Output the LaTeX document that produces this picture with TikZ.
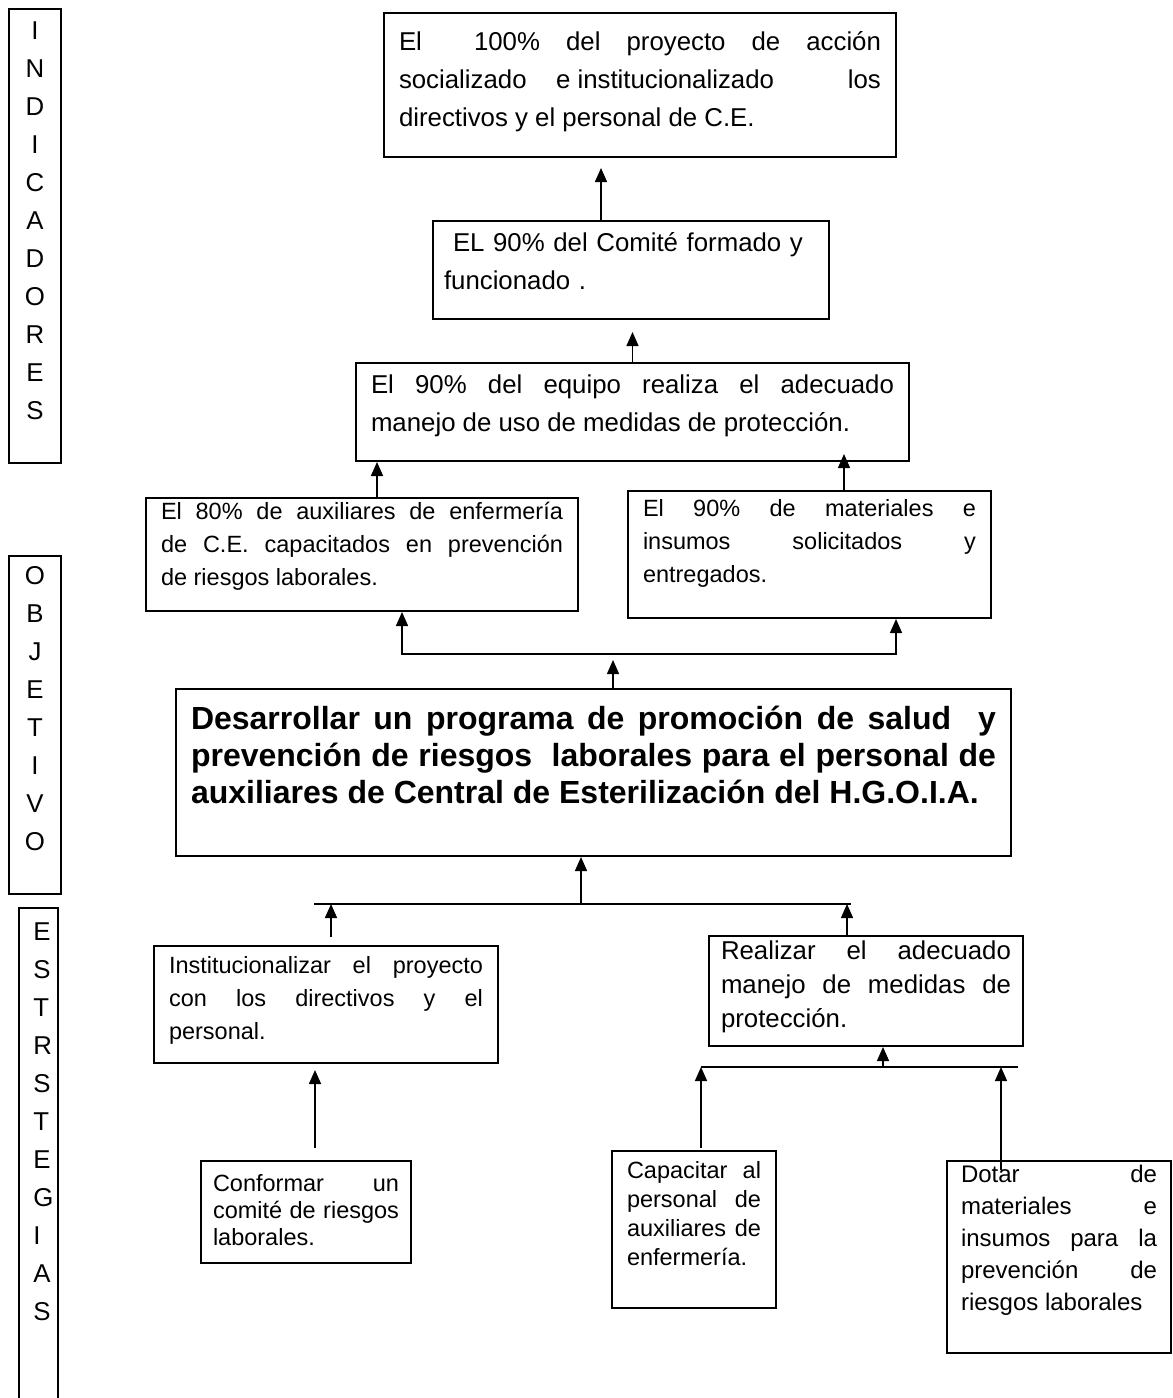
\documentclass[tikz,border=0pt]{standalone}
\usepackage{fontspec}
\setmainfont{Liberation Sans}
\usepackage{tikz}
\usetikzlibrary{arrows.meta}
\newcommand{\txtsize}[2]{\fontsize{#1}{#2}\selectfont\tolerance=10000\hyphenpenalty=10000}
\newcommand{\txtmain}{\txtsize{12.9pt}{19pt}}
\newcommand{\txtsmall}{\txtsize{11.75pt}{16.5pt}}
\newcommand{\txtbold}{\txtsize{16pt}{18.5pt}\bfseries}

\begin{document}
\begin{tikzpicture}[x=0.5pt, y=-0.5pt,
  box/.style={draw, line width=1pt, anchor=north west, inner xsep=7.5pt, inner ysep=0pt,
    align=justify, text height=15pt, font=\txtmain},
  smallbox/.style={box, text height=10.5pt, font=\txtsmall},
  side/.style={draw, line width=1pt, anchor=north west, inner sep=0pt, text width=26pt,
    align=center, font=\txtmain},
  arr/.style={-{Triangle[length=7pt, width=6pt]}, line width=0.75pt}]
  \useasboundingbox (0,0) rectangle (1173,1398);

  % columna izquierda
  \node[side, text height=15.25pt, text depth=211.75pt] (ind) at (8,8) {I\\N\\D\\I\\C\\A\\D\\O\\R\\E\\S};
  \node[side, text height=14.25pt, text depth=154.75pt] (obj) at (8,555) {O\\B\\J\\E\\T\\I\\V\\O};
  \node[anchor=north west, inner xsep=7pt, inner ysep=0pt, text width=5pt, align=left,
    font=\txtmain, text height=16.25pt, text depth=228.75pt] (est) at (19,908) {E\\S\\T\\R\\S\\T\\E\\G\\I\\A\\S};
  \draw[line width=1pt] (est.south west) -- (est.north west) -- (est.north east) -- (est.south east);

  % indicadores
  \node[box, text width=241pt, text height=18.5pt, text depth=53.5pt] (A) at (383,12)
    {El\ \ 100\% del proyecto de acción\linebreak socializado\ \ e\hspace{3.5pt}institucionalizado\ \ \ \ \ los\linebreak directivos y el personal de C.E.};
  \node[box, align=left, inner xsep=5.5pt, text width=187pt, text depth=34pt] (B) at (432,220)
    {\hspace*{4.5pt}EL 90\% del Comité formado y\\funcionado .};
  \node[box, text width=261.5pt, text depth=34pt] (C) at (355,362)
    {El 90\% del equipo realiza el adecuado\linebreak manejo de uso de medidas de protección.};
  \node[smallbox, text width=201pt, text depth=46pt] (D) at (145,497)
    {El 80\% de auxiliares de enfermería\linebreak de C.E. capacitados en prevención\linebreak de riesgos laborales.};
  \node[smallbox, text width=166.5pt, text height=12.5pt, text depth=51pt] (E) at (627,490)
    {El 90\% de materiales e\linebreak insumos solicitados y\linebreak entregados.};

  % objetivo
  \node[box, text width=402.5pt, text height=20pt, text depth=63.5pt, font=\txtbold] (F) at (175,688)
    {Desarrollar un programa de promoción de salud \ y\linebreak prevención de riesgos \ laborales para el personal de\linebreak auxiliares de Central de Esterilización del H.G.O.I.A.};

  % estrategias
  \node[smallbox, text width=157pt, text height=13.5pt, text depth=45pt] (G) at (153,945)
    {Institucionalizar el proyecto\linebreak con los directivos y el\linebreak personal.};
  \node[box, inner xsep=6pt, text width=145pt, text height=11.5pt, text depth=43.5pt,
    font={\txtsize{12.9pt}{17pt}}] (H) at (708,935)
    {Realizar el adecuado\linebreak manejo de medidas de\linebreak protección.};
  \node[smallbox, text width=67pt, text height=13.5pt, text depth=65pt,
    font={\txtsize{11.75pt}{14.5pt}}] (I) at (611,1150)
    {Capacitar al\linebreak personal de\linebreak auxiliares de\linebreak enfermería.};
  \node[box, inner xsep=7pt, text width=98pt, text height=10.5pt, text depth=85.5pt,
    font={\txtsize{12pt}{16pt}}] (J) at (946,1160)
    {Dotar de\linebreak materiales e\linebreak insumos para la\linebreak prevención de\linebreak riesgos laborales};
  \node[smallbox, inner xsep=6pt, text width=93pt, text height=15pt, text depth=36pt,
    font={\txtsize{11.75pt}{13.5pt}}] (K) at (200,1160)
    {Conformar un\linebreak comité de riesgos\linebreak laborales.};

  % flechas
  \draw[arr, shorten >=5pt] ([xshift=-15pt]B.north) -- ([xshift=-15pt]B.north |- A.south);
  \draw[arr, shorten >=6pt] (C.north) -- (C.north |- B.south);
  \draw[arr] ([xshift=7.5pt]D.north) -- ([xshift=7.5pt]D.north |- C.south);
  \draw[arr, shorten >=-4pt] ([xshift=17.25pt]E.north) -- ([xshift=17.25pt]E.north |- C.south);

  \coordinate (jo) at ([xshift=9.75pt, yshift=17pt]F.north);
  \draw[arr, shorten >=3pt] (F.north -| jo) -- (jo);
  \draw[arr] (jo) -| ([xshift=20pt]D.south);
  \draw[arr] (jo) -| ([xshift=43.25pt]E.south);

  \coordinate (jl) at ([xshift=-6.25pt, yshift=-23.5pt]F.south);
  \draw[arr] (jl) -- (F.south -| jl);
  \draw[line width=0.75pt] ([xshift=-6pt]G.north |- jl) -- ([xshift=-7.5pt]H.north |- jl);
  \draw[arr, shorten <=4pt] ([xshift=2.5pt]G.north) -- ([xshift=2.5pt]G.north |- jl);
  \draw[arr, shorten <=-1pt] ([xshift=-9.5pt]H.north) -- ([xshift=-9.5pt]H.north |- jl);

  \coordinate (jr) at ([xshift=8.5pt, yshift=-10pt]H.south);
  \draw[arr] (jr) -- (H.south -| jr);
  \draw[line width=0.75pt] ([xshift=3.5pt]I.north |- jr) -- ([xshift=-20.5pt]J.north |- jr);
  \draw[arr, shorten <=1pt] ([xshift=3.5pt]I.north) -- ([xshift=3.5pt]I.north |- jr);
  \draw[arr, shorten <=-5pt] ([xshift=-29pt]J.north) -- ([xshift=-29pt]J.north |- jr);

  \draw[arr, shorten <=6pt, shorten >=3pt] ([xshift=4.5pt]K.north) -- ([xshift=4.5pt]K.north |- G.south);
\end{tikzpicture}
\end{document}
